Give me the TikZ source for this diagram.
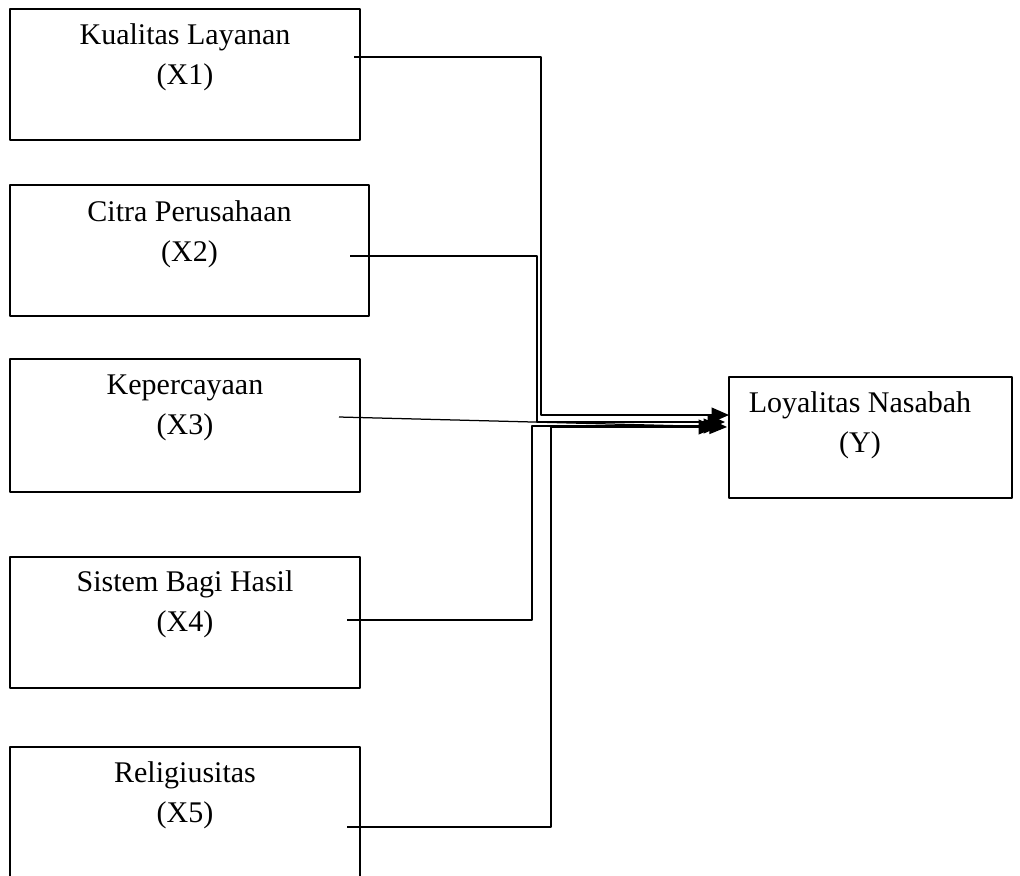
\documentclass[tikz,border=0pt]{standalone}
\usepackage{fontspec}
\setmainfont{Liberation Serif}
\usetikzlibrary{arrows.meta}

\begin{document}
\begin{tikzpicture}[line join=round,>={Triangle[length=7pt,width=6pt]},x=0.4pt,y=-0.4pt,
  box/.style={draw,line width=1pt,inner sep=0pt,outer sep=0pt},
  lbl/.style={align=center,font=\fontsize{12pt}{16pt}\selectfont,inner sep=0pt},
  conn/.style={line width=0.5pt}]
\clip (0,0) rectangle (1020,875);
% variabel bebas
\node [box,minimum width=140pt,minimum height=52.4pt] (kl) at (185,74.5) {};
\node [box,minimum width=143.6pt,minimum height=52.4pt] (cp) at (189.5,250.5) {};
\node [box,minimum width=140pt,minimum height=53.2pt] (kp) at (185,425.5) {};
\node [box,minimum width=140pt,minimum height=52.4pt] (sb) at (185,622.5) {};
\node [box,minimum width=140pt,minimum height=53.2pt] (rl) at (185,813.5) {};
% variabel terikat
\node [box,minimum width=113.2pt,minimum height=48.4pt] (ln) at (870.5,437.5) {};
\node [lbl] (klt) at (185,57.5) {Kualitas Layanan\\(X1)};
\node [lbl] (cpt) at (189.5,234) {Citra Perusahaan\\(X2)};
\node [lbl] (kpt) at (185,408) {Kepercayaan\\(X3)};
\node [lbl] (sbt) at (185,604) {Sistem Bagi Hasil\\(X4)};
\node [lbl] (rlt) at (185,795) {Religiusitas\\(X5)};
\node [lbl] (lnt) at (860,425) {Loyalitas Nasabah\\(Y)};
% titik awal dan akhir panah
\coordinate (s1) at (354,57);
\coordinate (s2) at (350,256);
\coordinate (s3) at (339,417);
\coordinate (s4) at (347,620);
\coordinate (s5) at (347,827);
\coordinate (e1) at (ln.west |- 0,415);
\coordinate (e2) at (725,422);
\coordinate (e3) at (727,427);
\coordinate (e4) at (721,426);
\coordinate (e5) at (716,427);
\draw [conn,->] (s1) -- (541,57) -- (541,415) -- (e1);
\draw [conn,->] (s2) -- (537,256) -- (537,422) -- (e2);
\draw [conn,->] (s3) -- (e3);
\draw [conn,->] (s4) -- (532,620) -- (532,426) -- (e4);
\draw [conn,->] (s5) -- (551,827) -- (551,427) -- (e5);
\end{tikzpicture}
\end{document}
